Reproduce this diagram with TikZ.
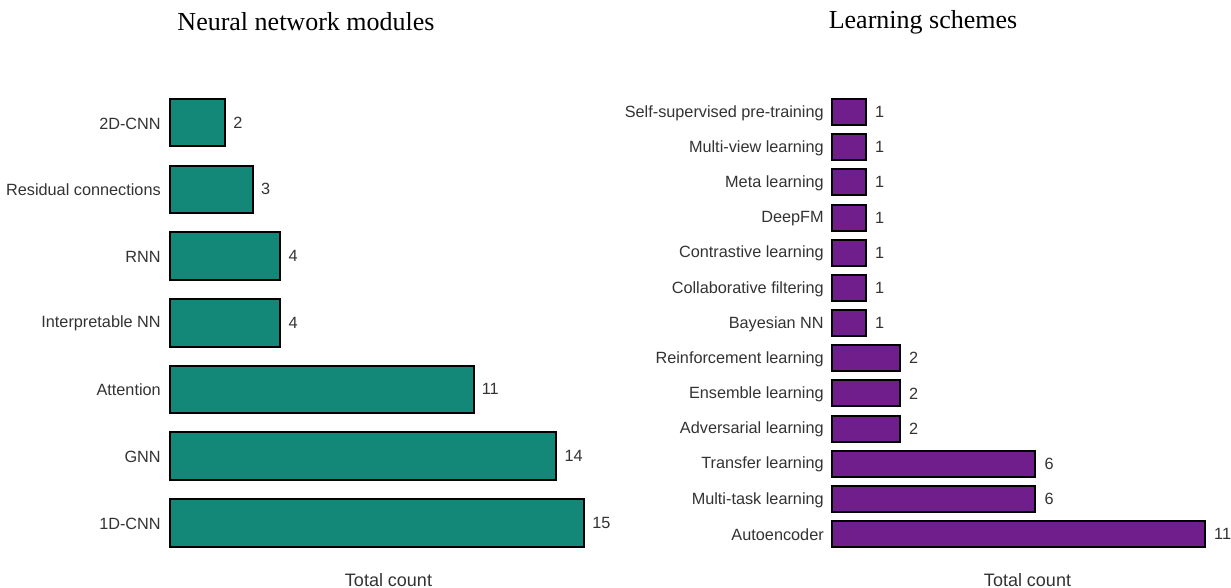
\documentclass[tikz,border=0pt]{standalone}
\usepackage{fontspec}
\setmainfont{Liberation Sans}
\newfontfamily\titlefont{Liberation Serif}
\definecolor{tealbar}{HTML}{148878}
\definecolor{purplebar}{HTML}{6F1E8B}
\definecolor{labelgray}{HTML}{333333}
\begin{document}
\begin{tikzpicture}[x=0.75pt,y=-0.75pt,
  barbox/.style={draw=black,line width=1.5pt},
  lbl/.style={anchor=east,inner sep=0pt,text=labelgray,font=\fontsize{12.2pt}{14pt}\selectfont},
  val/.style={anchor=west,inner sep=0pt,text=labelgray,font=\fontsize{12.2pt}{14pt}\selectfont},
  ttl/.style={inner sep=0pt,font=\titlefont\fontsize{19.5pt}{22pt}\selectfont},
  axl/.style={inner sep=0pt,text=labelgray,font=\fontsize{13.5pt}{16pt}\selectfont}]
\useasboundingbox (0,0) rectangle (1231,588);
\node[ttl] (t1) at (306,22) {Neural network modules};
\node[ttl] (t2) at (923,22) {Learning schemes};
% left chart
\foreach \i/\name/\v in {0/2D-CNN/2,1/Residual connections/3,2/RNN/4,3/Interpretable NN/4,4/Attention/11,5/GNN/14,6/1D-CNN/15}{
  \pgfmathsetmacro{\yt}{99+66.67*\i}
  \pgfmathsetmacro{\xr}{170+27.6*\v}
  \draw[barbox,fill=tealbar] (170,\yt) rectangle (\xr,\yt+47.5);
  \node[lbl] (la\i) at (161,\yt+24.5) {\name};
  \node[val] (va\i) at (\xr+8,\yt+23.5) {\v};
}
\node[axl,anchor=base] (ax1) at (388.5,586) {Total count};
% right chart
\foreach \i/\name/\v in {0/Self-supervised pre-training/1,1/Multi-view learning/1,2/Meta learning/1,3/DeepFM/1,4/Contrastive learning/1,5/Collaborative filtering/1,6/Bayesian NN/1,7/Reinforcement learning/2,8/Ensemble learning/2,9/Adversarial learning/2,10/Transfer learning/6,11/Multi-task learning/6,12/Autoencoder/11}{
  \pgfmathsetmacro{\yt}{99+35.17*\i}
  \pgfmathsetmacro{\xr}{832+33.9*\v}
  \draw[barbox,fill=purplebar] (832,\yt) rectangle (\xr,\yt+26);
  \node[lbl] (lb\i) at (824,\yt+14) {\name};
  \node[val] (vb\i) at (\xr+9,\yt+13) {\v};
}
\node[axl,anchor=base] (ax2) at (1027.5,586) {Total count};
\end{tikzpicture}
\end{document}
